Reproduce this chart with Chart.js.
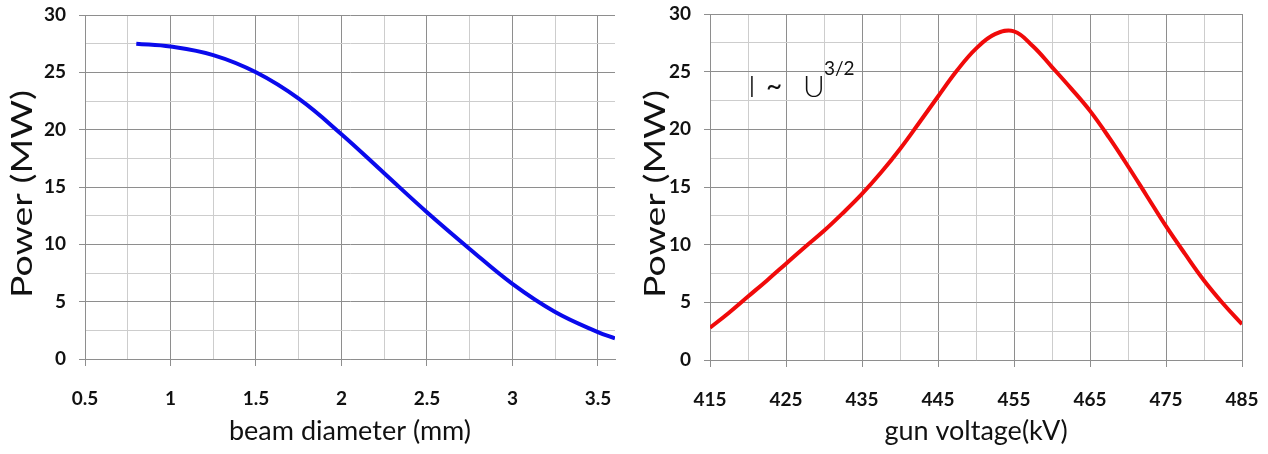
<!DOCTYPE html>
<html>
<head>
<meta charset="utf-8">
<script src="https://cdn.jsdelivr.net/npm/chart.js@4.4.1/dist/chart.umd.min.js"></script>
<style>
  html, body { margin: 0; padding: 0; background: #fff; }
  #wrap { position: relative; width: 1268px; height: 454px; }
  .box { position: absolute; top: 0; height: 454px; }
  #leftBox { left: 0; width: 630px; }
  #rightBox { left: 630px; width: 638px; }
</style>
</head>
<body>
<div id="wrap">
  <div class="box" id="leftBox"><canvas id="beamChart"></canvas></div>
  <div class="box" id="rightBox"><canvas id="voltChart"></canvas></div>
</div>
<script>
// beam diameter (mm) vs power (MW)
const beamDiameter = [0.8, 1.0, 1.25, 1.5, 1.75, 2.0, 2.25, 2.5, 2.75, 3.0, 3.25, 3.5, 3.6];
const beamPower    = [27.5, 27.25, 26.5, 25.0, 22.7, 19.6, 16.2, 12.8, 9.6, 6.55, 4.1, 2.35, 1.8];

// gun voltage (kV) vs power (MW)
const gunVoltage = [415, 417.5, 420, 422.5, 425, 427.5, 430, 432.5, 435, 437.5, 440, 442.5, 445, 447.5,
                    450, 452.5, 455, 457.5, 460, 462.5, 465, 467.5, 470, 472.5, 475, 477.5, 480, 482.5, 485];
const gunPower   = [2.8, 4.1, 5.5, 6.9, 8.35, 9.8, 11.2, 12.75, 14.4, 16.25, 18.3, 20.55, 22.85, 25.1,
                    27.0, 28.25, 28.5, 27.2, 25.4, 23.55, 21.6, 19.3, 16.8, 14.2, 11.6, 9.2, 6.9, 4.9, 3.1];

// tick labels
const beamTicks = [0.5, 1, 1.5, 2, 2.5, 3, 3.5];
const voltTicks = [415, 425, 435, 445, 455, 465, 475, 485];
const powerTicks = [0, 5, 10, 15, 20, 25, 30];

const MAJOR = '#8e8e8e';
const MINOR = '#cdcdcd';

function toPoints(xs, ys) {
    return xs.map((x, i) => ({ x: x, y: ys[i] }));
}

// y axis title, stretched along the text like the original
const yTitlePlugin = {
    id: 'yTitle',
    afterDraw(chart, args, opts) {
        const ctx = chart.ctx;
        const area = chart.chartArea;
        ctx.save();
        ctx.font = '28px Lato';
        ctx.fillStyle = '#111';
        ctx.textAlign = 'center';
        ctx.textBaseline = 'middle';
        const w = ctx.measureText(opts.text).width;
        ctx.translate(opts.x, (area.top + area.bottom) / 2 + 7);
        ctx.rotate(-Math.PI / 2);
        ctx.scale(opts.length / w, 1);
        ctx.fillText(opts.text, 0, 0);
        ctx.restore();
    }
};

// "I ~ U^3/2" note
const notePlugin = {
    id: 'note',
    afterDraw(chart, args, opts) {
        if (!opts.show) return;
        const ctx = chart.ctx;
        const x = chart.scales.x.getPixelForValue(420);
        const y = chart.scales.y.getPixelForValue(22.8);
        ctx.save();
        ctx.fillStyle = '#111';
        ctx.textBaseline = 'alphabetic';
        ctx.font = '300 30px Lato';
        ctx.fillText('I', x, y);
        ctx.fillText('U', x + 55, y);
        ctx.font = '28px Lato';
        ctx.fillText('~', x + 18, y - 1);
        ctx.font = '19px Lato';
        ctx.fillText('3/2', x + 76, y - 22);
        ctx.restore();
    }
};

function makeChart(id, cfg) {
    const isMajorX = v => cfg.xTicks.includes(v);
    const isMajorY = v => powerTicks.includes(v);
    return new Chart(document.getElementById(id), {
        type: 'line',
        data: {
            datasets: [{
                data: toPoints(cfg.xs, cfg.ys),
                borderColor: cfg.color,
                borderWidth: 4,
                pointRadius: 0,
                fill: false,
                tension: 0.4
            }]
        },
        options: {
            responsive: true,
            maintainAspectRatio: false,
            animation: false,
            layout: { padding: { top: cfg.top, right: cfg.right, left: 0, bottom: 0 } },
            plugins: {
                legend: { display: false },
                tooltip: { enabled: false },
                yTitle: { text: 'Power (MW)', x: cfg.titleX, length: 208 },
                note: { show: cfg.note }
            },
            scales: {
                x: {
                    type: 'linear',
                    min: cfg.xMin,
                    max: cfg.xMax,
                    afterFit: s => {
                        s.height = 454 - cfg.bottom;
                        s.paddingLeft = 0;
                        s.paddingRight = 0;
                    },
                    ticks: {
                        stepSize: cfg.xStep,
                        includeBounds: false,
                        autoSkip: false,
                        maxRotation: 0,
                        padding: 21,
                        color: '#111',
                        font: { family: 'Lato', size: 19, weight: 'bold' },
                        callback: v => isMajorX(v) ? String(v) : ''
                    },
                    grid: {
                        color: c => isMajorX(c.tick.value) ? MAJOR : MINOR,
                        tickColor: c => isMajorX(c.tick.value) ? MAJOR : 'rgba(0,0,0,0)',
                        tickLength: 7,
                        lineWidth: 1
                    },
                    border: { color: MAJOR, width: 1 },
                    title: {
                        display: true,
                        text: cfg.xTitle,
                        color: '#111',
                        font: { family: 'Lato', size: 27 },
                        padding: { top: 0, bottom: 7 }
                    }
                },
                y: {
                    min: 0,
                    max: 30,
                    afterFit: s => {
                        s.width = cfg.left;
                        s.paddingTop = 0;
                        s.paddingBottom = 0;
                    },
                    ticks: {
                        stepSize: 2.5,
                        autoSkip: false,
                        padding: 13,
                        color: '#111',
                        font: { family: 'Lato', size: 19, weight: 'bold' },
                        callback: v => isMajorY(v) ? String(v) : ''
                    },
                    grid: {
                        color: c => isMajorY(c.tick.value) ? MAJOR : MINOR,
                        tickColor: c => isMajorY(c.tick.value) ? MAJOR : 'rgba(0,0,0,0)',
                        tickLength: 6,
                        lineWidth: 1
                    },
                    border: { color: MAJOR, width: 1 }
                }
            }
        },
        plugins: [yTitlePlugin, notePlugin]
    });
}

makeChart('beamChart', {
    xs: beamDiameter, ys: beamPower, color: '#0a0aec',
    xTicks: beamTicks, xMin: 0.5, xMax: 3.6, xStep: 0.25,
    xTitle: 'beam diameter (mm)',
    left: 85, right: 15, top: 15, bottom: 359, titleX: 23, note: false
});

makeChart('voltChart', {
    xs: gunVoltage, ys: gunPower, color: '#f00a0a',
    xTicks: voltTicks, xMin: 415, xMax: 485, xStep: 5,
    xTitle: 'gun voltage(kV)',
    left: 80, right: 26, top: 14, bottom: 360, titleX: 26, note: true
});
</script>
</body>
</html>
